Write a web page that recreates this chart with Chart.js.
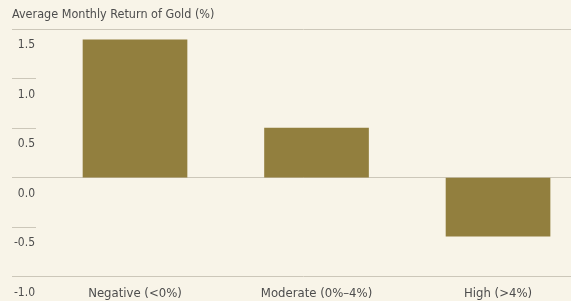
<!DOCTYPE html>
<html>
<head>
<meta charset="utf-8">
<script src="https://cdn.jsdelivr.net/npm/chart.js@4"></script>
<style>
html,body{margin:0;padding:0;background:#f8f4e8;}
#wrap{width:571px;height:301px;}
</style>
</head>
<body>
<div id="wrap"><canvas id="c" width="571" height="301"></canvas></div>
<script>
const titleText = 'Average Monthly Return of Gold (%)';
const categories = ['Negative (<0%)', 'Moderate (0%\u20134%)', 'High (>4%)'];
const returns = [1.39, 0.50, -0.59];
const yTicks = [-1.0, -0.5, 0.0, 0.5, 1.0, 1.5];
const fullLines = [-1.0, 0.0, 1.5];

const FONT = '"Liberation Sans Narrow", "DejaVu Sans Condensed", "Roboto Condensed", sans-serif';
const TEXT = '#4d4d4d';
const GRID = '#ccc7b9';
const BAR = '#927f3e';

new Chart(document.getElementById('c'), {
  type: 'bar',
  data: {
    datasets: [{
      data: categories.map((c, i) => ({ x: i, y: returns[i] })),
      backgroundColor: BAR,
      borderWidth: 0,
      barThickness: 104
    }]
  },
  options: {
    responsive: false,
    animation: false,
    devicePixelRatio: 1,
    layout: { padding: { left: 12, right: 0, top: 0, bottom: -9.4 } },
    plugins: {
      legend: { display: false },
      tooltip: { enabled: false },
      title: {
        display: true,
        text: titleText,
        align: 'start',
        color: TEXT,
        padding: { top: 8, bottom: 7 },
        font: { family: FONT, size: 12.5, weight: 'normal', lineHeight: 14 / 12.5 }
      }
    },
    scales: {
      x: {
        type: 'linear',
        offset: false,
        min: -0.5455,
        max: 2.402,
        afterBuildTicks: ax => { ax.ticks = categories.map((c, i) => ({ value: i })); },
        grid: { display: false, drawTicks: false, offset: false },
        border: { display: false },
        ticks: {
          padding: 9,
          autoSkip: false,
          maxRotation: 0,
          color: TEXT,
          font: { family: FONT, size: 13 },
          callback: v => categories[v]
        }
      },
      y: {
        type: 'linear',
        position: 'left',
        min: -1.0,
        max: 1.5,
        afterBuildTicks: ax => { ax.ticks = yTicks.map(v => ({ value: v })); },
        afterFit: ax => { ax.width = 24; },
        border: { display: false },
        grid: {
          color: ctx => (ctx.tick && fullLines.includes(ctx.tick.value)) ? GRID : 'rgba(0,0,0,0)',
          tickColor: GRID,
          tickLength: 24,
          drawTicks: true,
          lineWidth: 1
        },
        ticks: {
          padding: -23,
          crossAlign: 'near',
          labelOffset: 16,
          color: TEXT,
          font: { family: FONT, size: 12 },
          callback: v => Number(v).toFixed(1)
        }
      }
    }
  }
});
</script>
</body>
</html>
